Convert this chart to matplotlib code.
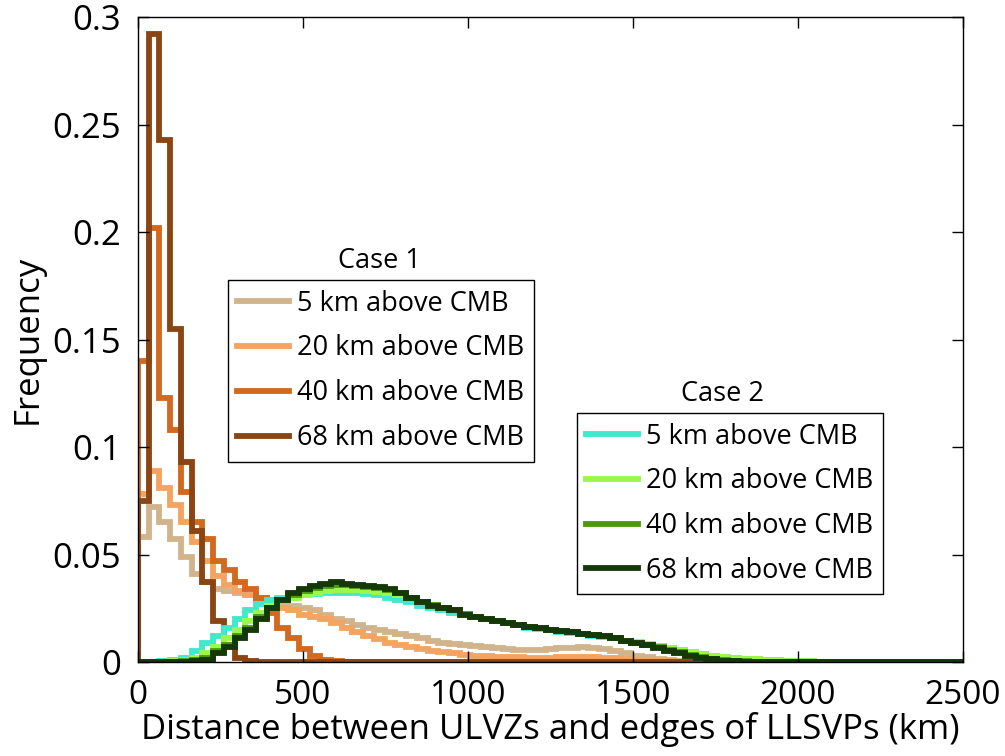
import numpy as np
import matplotlib
matplotlib.use('Agg')
import matplotlib.pyplot as plt
from matplotlib.lines import Line2D

plt.rcParams['font.family'] = ['Open Sans', 'DejaVu Sans']

# histogram bins (km), 32.5 km wide
bin_width = 32.5
n_bins = 77

labels = ['5 km above CMB', '20 km above CMB', '40 km above CMB', '68 km above CMB']

# Case 1
c1_5 = [0.058, 0.072, 0.065, 0.057, 0.049, 0.041, 0.037, 0.034, 0.033, 0.032,
        0.031, 0.030, 0.029, 0.027, 0.026, 0.025, 0.024, 0.022, 0.020, 0.019,
        0.017, 0.016, 0.015, 0.014, 0.013, 0.012, 0.011, 0.010, 0.009, 0.0085,
        0.008, 0.0075, 0.007, 0.0065, 0.006, 0.0058, 0.0056, 0.0058, 0.006, 0.0064,
        0.0067, 0.0068, 0.0066, 0.006, 0.005, 0.004, 0.003, 0.0022, 0.0015, 0.001,
        0.0007, 0.0004, 0.0002, 0.0001, 0, 0, 0, 0, 0, 0,
        0, 0, 0, 0, 0, 0, 0, 0, 0, 0,
        0, 0, 0, 0, 0, 0, 0]
c1_20 = [0.078, 0.089, 0.081, 0.073, 0.065, 0.056, 0.047, 0.040, 0.036, 0.033,
         0.031, 0.029, 0.027, 0.025, 0.024, 0.022, 0.021, 0.020, 0.018, 0.016,
         0.014, 0.012, 0.0105, 0.009, 0.008, 0.007, 0.006, 0.005, 0.0045, 0.004,
         0.0035, 0.003, 0.0027, 0.0025, 0.0023, 0.0022, 0.002, 0.002, 0.002, 0.0022,
         0.0024, 0.0024, 0.0022, 0.002, 0.0017, 0.0014, 0.001, 0.0008, 0.0005, 0.0003,
         0.0001, 0, 0, 0, 0, 0, 0, 0, 0, 0,
         0, 0, 0, 0, 0, 0, 0, 0, 0, 0,
         0, 0, 0, 0, 0, 0, 0]
c1_40 = [0.140, 0.202, 0.123, 0.108, 0.079, 0.065, 0.057, 0.047, 0.043, 0.037,
         0.034, 0.030, 0.023, 0.016, 0.011, 0.006, 0.003, 0.001, 0.0005, 0,
         0, 0, 0, 0, 0, 0, 0, 0, 0, 0,
         0, 0, 0, 0, 0, 0, 0, 0, 0, 0,
         0, 0, 0, 0, 0, 0, 0, 0, 0, 0,
         0, 0, 0, 0, 0, 0, 0, 0, 0, 0,
         0, 0, 0, 0, 0, 0, 0, 0, 0, 0,
         0, 0, 0, 0, 0, 0, 0]
c1_68 = [0.075, 0.292, 0.243, 0.155, 0.093, 0.061, 0.037, 0.019, 0.008, 0.002,
         0.0005, 0, 0, 0, 0, 0, 0, 0, 0, 0,
         0, 0, 0, 0, 0, 0, 0, 0, 0, 0,
         0, 0, 0, 0, 0, 0, 0, 0, 0, 0,
         0, 0, 0, 0, 0, 0, 0, 0, 0, 0,
         0, 0, 0, 0, 0, 0, 0, 0, 0, 0,
         0, 0, 0, 0, 0, 0, 0, 0, 0, 0,
         0, 0, 0, 0, 0, 0, 0]

# Case 2
c2_5 = [0, 0.0002, 0.0005, 0.001, 0.002, 0.005, 0.009, 0.012, 0.016, 0.020,
        0.024, 0.027, 0.029, 0.030, 0.031, 0.0315, 0.0315, 0.032, 0.032, 0.032,
        0.032, 0.0315, 0.031, 0.030, 0.029, 0.028, 0.026, 0.025, 0.024, 0.023,
        0.022, 0.021, 0.020, 0.019, 0.018, 0.017, 0.016, 0.0155, 0.015, 0.014,
        0.0135, 0.013, 0.012, 0.0115, 0.011, 0.010, 0.009, 0.0085, 0.0075, 0.0065,
        0.0055, 0.0045, 0.0037, 0.003, 0.0025, 0.002, 0.0016, 0.0013, 0.001, 0.0008,
        0.0006, 0.0004, 0.0003, 0.0002, 0.0002, 0.0001, 0.0001, 0.0001, 0.0001, 0.0001,
        0.0001, 0, 0, 0, 0, 0, 0]
c2_20 = [0, 0, 0, 0.0005, 0.001, 0.002, 0.004, 0.007, 0.011, 0.015,
         0.019, 0.023, 0.026, 0.029, 0.030, 0.031, 0.032, 0.033, 0.0335, 0.0335,
         0.0335, 0.033, 0.0325, 0.032, 0.031, 0.030, 0.028, 0.026, 0.025, 0.024,
         0.022, 0.021, 0.020, 0.019, 0.018, 0.0172, 0.0165, 0.016, 0.015, 0.0145,
         0.014, 0.013, 0.0125, 0.012, 0.011, 0.010, 0.0095, 0.0085, 0.0075, 0.0065,
         0.0055, 0.0045, 0.0037, 0.003, 0.0024, 0.0019, 0.0015, 0.0012, 0.001, 0.0008,
         0.0006, 0.0004, 0.0003, 0.0002, 0.0002, 0.0001, 0.0001, 0.0001, 0.0001, 0.0001,
         0, 0, 0, 0, 0, 0, 0]
c2_40 = [0, 0, 0, 0, 0.0005, 0.001, 0.002, 0.005, 0.008, 0.012,
         0.016, 0.021, 0.025, 0.029, 0.031, 0.033, 0.0345, 0.0355, 0.036, 0.036,
         0.0355, 0.035, 0.0345, 0.0335, 0.032, 0.030, 0.028, 0.0265, 0.025, 0.024,
         0.0225, 0.021, 0.020, 0.019, 0.018, 0.017, 0.0165, 0.016, 0.015, 0.0145,
         0.014, 0.013, 0.0125, 0.012, 0.011, 0.010, 0.009, 0.008, 0.0068, 0.0055,
         0.0045, 0.0035, 0.0025, 0.0016, 0.001, 0.0006, 0.0003, 0.0002, 0.0001, 0.0001,
         0, 0, 0, 0, 0, 0, 0, 0, 0, 0,
         0, 0, 0, 0, 0, 0, 0]
c2_68 = [0, 0, 0, 0, 0, 0.0003, 0.001, 0.004, 0.007, 0.011,
         0.015, 0.020, 0.025, 0.029, 0.032, 0.034, 0.0355, 0.0365, 0.037, 0.0365,
         0.036, 0.0355, 0.035, 0.034, 0.032, 0.030, 0.028, 0.026, 0.025, 0.024,
         0.022, 0.021, 0.020, 0.019, 0.018, 0.017, 0.0165, 0.016, 0.015, 0.0145,
         0.014, 0.013, 0.0125, 0.012, 0.011, 0.010, 0.009, 0.008, 0.0065, 0.005,
         0.004, 0.003, 0.002, 0.0012, 0.0006, 0.0003, 0.0001, 0, 0, 0,
         0, 0, 0, 0, 0, 0, 0, 0, 0, 0,
         0, 0, 0, 0, 0, 0, 0]

case1 = [c1_5, c1_20, c1_40, c1_68]
case2 = [c2_5, c2_20, c2_40, c2_68]
colors1 = ['#d2b48c', '#f4a460', '#d2691e', '#8b4513']
colors2 = ['#40e8cc', '#9cf74a', '#4a9a0c', '#143808']

edges = np.arange(n_bins + 1) * bin_width
lw = 4.2

fig = plt.figure(figsize=(10.05, 7.56), dpi=100)
ax = fig.add_axes([0.1373, 0.1243, 0.8209, 0.8532])

for vals, c in zip(case1, colors1):
    ax.stairs(vals, edges, baseline=0, fill=False, color=c, linewidth=lw)
for vals, c in zip(case2, colors2):
    ax.stairs(vals, edges, baseline=0, fill=False, color=c, linewidth=lw)

ax.set_xlim(0, 2500)
ax.set_ylim(0, 0.3)
ax.set_xticks([0, 500, 1000, 1500, 2000, 2500])
ax.set_yticks([0, 0.05, 0.1, 0.15, 0.2, 0.25, 0.3])
ax.set_yticklabels(['0', '0.05', '0.1', '0.15', '0.2', '0.25', '0.3'], fontsize=25)
ax.set_xticklabels(['0', '500', '1000', '1500', '2000', '2500'], fontsize=24)
ax.tick_params(direction='in', length=8, width=1, top=True, right=True)
ax.tick_params(axis='y', pad=12)
ax.tick_params(axis='x', pad=12)
for s in ax.spines.values():
    s.set_linewidth(1)

ax.set_xlabel('Distance between ULVZs and edges of LLSVPs (km)', fontsize=25, labelpad=0)
ax.set_ylabel('Frequency', fontsize=25, labelpad=6)

leg_kw = dict(loc='upper left', frameon=True, fancybox=False, framealpha=1,
              edgecolor='black', fontsize=19.5, handlelength=1.9, handletextpad=0.3,
              borderaxespad=0, borderpad=0.35, labelspacing=0.62)

h1 = [Line2D([], [], color=c, linewidth=lw) for c in colors1]
leg1 = ax.legend(h1, labels, bbox_to_anchor=(0.109, 0.592), **leg_kw)
leg1.get_frame().set_linewidth(1)
ax.add_artist(leg1)

h2 = [Line2D([], [], color=c, linewidth=lw) for c in colors2]
leg2 = ax.legend(h2, labels, bbox_to_anchor=(0.532, 0.386), **leg_kw)
leg2.get_frame().set_linewidth(1)

ax.text(0.293, 0.622, 'Case 1', transform=ax.transAxes, fontsize=19.5,
        ha='center', va='center')
ax.text(0.708, 0.416, 'Case 2', transform=ax.transAxes, fontsize=19.5,
        ha='center', va='center')

fig.savefig('out.png', dpi=100)
